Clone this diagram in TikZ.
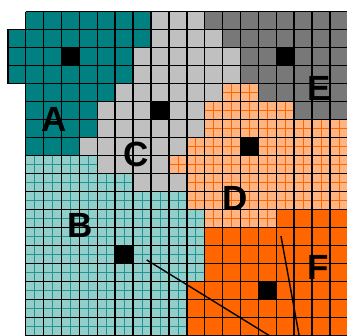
\documentclass[tikz,border=0pt]{standalone}
\usepackage{fontspec}
\setmainfont{Liberation Sans}
\definecolor{tealdk}{RGB}{0,128,128}
\definecolor{teallt}{RGB}{146,206,202}
\definecolor{greylt}{RGB}{192,192,192}
\definecolor{greydk}{RGB}{120,120,120}
\definecolor{orangelt}{RGB}{255,180,130}
\definecolor{orangedk}{RGB}{255,102,0}
\begin{document}
\begin{tikzpicture}[x=17.9pt, y=-18pt, font=\bfseries\fontsize{35}{35}\selectfont,
      gridline/.style={line width=1.5pt, black},
      hatchA/.style={line width=0.6pt, tealdk!85},
      hatchB/.style={line width=0.6pt, orangedk},
      lbl/.style={inner sep=0pt},
      cut/.style={line width=1.4pt, black}]
    % one unit = one cell, row r counted downwards from the top of the grid,
    % spans are row/first column/last column/colour
    \useasboundingbox (-1.436,-0.65) rectangle (17.95,18.017);
    \clip (-1.436,-0.65) rectangle (17.95,18.017);
    \foreach \r/\a/\b/\c in {0/0/6/tealdk, 0/7/9/greylt, 0/10/17/greydk,
        1/-1/6/tealdk, 1/7/10/greylt, 1/11/17/greydk,
        2/-1/5/tealdk, 2/6/11/greylt, 2/12/17/greydk,
        3/-1/5/tealdk, 3/6/11/greylt, 3/12/17/greydk,
        4/0/4/tealdk, 4/5/10/greylt, 4/11/12/orangelt, 4/13/17/greydk,
        5/0/3/tealdk, 5/4/9/greylt, 5/10/14/orangelt, 5/15/17/greydk,
        6/0/3/tealdk, 6/4/9/greylt, 6/10/17/orangelt,
        7/0/2/tealdk, 7/3/8/greylt, 7/9/17/orangelt,
        8/0/3/teallt, 8/4/7/greylt, 8/8/17/orangelt,
        9/0/5/teallt, 9/6/8/greylt, 9/9/17/orangelt,
        10/0/8/teallt, 10/9/17/orangelt,
        11/0/9/teallt, 11/10/13/orangelt, 11/14/17/orangedk,
        12/0/9/teallt, 12/10/17/orangedk,
        13/0/9/teallt, 13/10/17/orangedk,
        14/0/9/teallt, 14/10/17/orangedk,
        15/0/8/teallt, 15/9/17/orangedk,
        16/0/8/teallt, 16/9/17/orangedk,
        17/0/8/teallt, 17/9/17/orangedk}
      \fill[\c] (\a,\r) rectangle (\b+1,\r+1);
    % half-cell lines in the two light regions
    \foreach \r/\a/\b/\h in {4/11/12/hatchB, 5/10/14/hatchB, 6/10/17/hatchB,
        7/9/17/hatchB, 8/8/17/hatchB, 9/9/17/hatchB, 10/9/17/hatchB, 11/10/13/hatchB,
        8/0/3/hatchA, 9/0/5/hatchA, 10/0/8/hatchA, 11/0/9/hatchA, 12/0/9/hatchA,
        13/0/9/hatchA, 14/0/9/hatchA, 15/0/8/hatchA, 16/0/8/hatchA, 17/0/8/hatchA} {
      \draw[\h] (\a,\r+0.5) -- (\b+1,\r+0.5);
      \foreach \k in {\a,...,\b} \draw[\h] (\k+0.5,\r) -- (\k+0.5,\r+1);
    }
    \foreach \k in {0,...,18} \draw[gridline] (\k,0) -- (\k,18);
    \foreach \r in {0,...,18} \draw[gridline] (0,\r) -- (18,\r);
    \draw[gridline] (-1,1) rectangle (0,4) (-1,2) -- (0,2) (-1,3) -- (0,3);
    % seed cells
    \foreach \k/\r in {2/2, 14/2, 7/5, 12/7, 5/13, 13/15}
      \fill[black] (\k,\r) rectangle +(1,1);
    \node[lbl] (labA) at (1.564,6.006) {A};
    \node[lbl] (labC) at (6.179,7.944) {C};
    \node[lbl] (labB) at (3.045,11.867) {B};
    \node[lbl] (labD) at (11.69,10.35) {D};
    \node[lbl] (labE) at (16.38,4.256) {E};
    \node[lbl] (labF) at (16.33,14.19) {F};
    \coordinate (cutAs) at (6.76,13.79);
    \coordinate (cutAe) at (13.65,18.02);
    \coordinate (cutBs) at (14.26,12.46);
    \coordinate (cutBe) at (15.28,18.02);
    \draw[cut] (cutAs) -- (cutAe);
    \draw[cut] (cutBs) -- (cutBe);
  \end{tikzpicture}
\end{document}
